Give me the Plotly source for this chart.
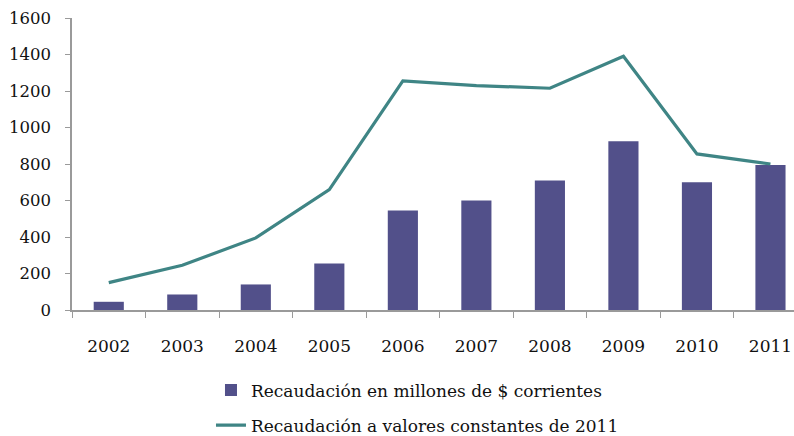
import plotly.graph_objects as go

years = ["2002", "2003", "2004", "2005", "2006", "2007", "2008", "2009", "2010", "2011"]
corrientes = [45, 85, 140, 255, 545, 600, 710, 925, 700, 795]
constantes = [150, 245, 395, 660, 1255, 1230, 1215, 1390, 855, 800]
y_ticks = [0, 200, 400, 600, 800, 1000, 1200, 1400, 1600]

FONT = "DejaVu Serif"

fig = go.Figure()
fig.add_trace(go.Bar(
    x=years, y=corrientes,
    name="Recaudación en millones de $ corrientes",
    marker=dict(color="#52508A", line=dict(width=0)),
    width=0.41, legendgroup="a",
))
fig.add_trace(go.Scatter(
    x=years, y=constantes, mode="lines",
    name="Recaudación a valores constantes de 2011",
    line=dict(color="#3F8585", width=3.2), legendgroup="b",
))

fig.update_layout(
    width=794, height=436,
    margin=dict(l=72, r=0, t=18, b=126, autoexpand=False),
    paper_bgcolor="white", plot_bgcolor="white",
    font=dict(family=FONT, size=17, color="#111111"),
    showlegend=True,
    legend=dict(
        orientation="v", x=0.1925, xanchor="left", y=-0.214, yanchor="top",
        font=dict(family=FONT, size=17, color="#111111"),
        itemwidth=30, tracegroupgap=10, traceorder="grouped",
        bgcolor="rgba(0,0,0,0)",
    ),
)
fig.update_xaxes(
    type="category", range=[-0.5, 9.32], automargin=False,
    showline=True, linecolor="#9a9a9a", linewidth=1.5,
    ticks="outside", tickson="boundaries", ticklen=6, tickcolor="#9a9a9a",
    ticklabelstandoff=20,
    showgrid=False, tickfont=dict(family=FONT, size=17, color="#111111"),
)
fig.update_yaxes(
    range=[0, 1600], tickvals=y_ticks, automargin=False,
    showline=True, linecolor="#9a9a9a", linewidth=1.5,
    ticks="outside", ticklen=5, tickcolor="#9a9a9a",
    ticklabelstandoff=11,
    showgrid=False, zeroline=False,
    tickfont=dict(family=FONT, size=16.5, color="#111111"),
)

fig.write_html(
    "out.html",
    config={"displayModeBar": False},
    post_script="document.body.style.margin='0';document.body.style.overflow='hidden';",
)
